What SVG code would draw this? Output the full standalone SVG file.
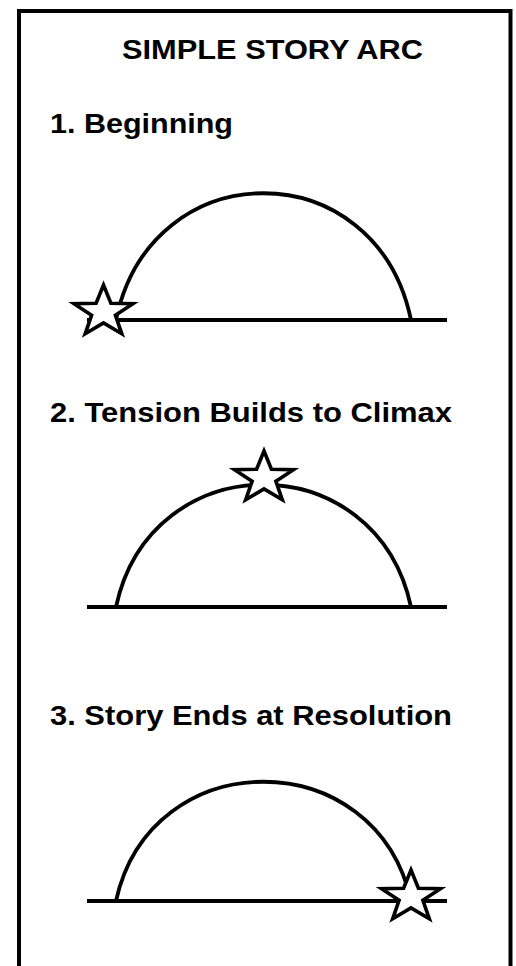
<svg xmlns="http://www.w3.org/2000/svg" xmlns:xlink="http://www.w3.org/1999/xlink" width="516" height="966" viewBox="0 0 516 966">
  <style>
    .t { font-family: "Liberation Sans", Arial, sans-serif; font-weight: bold; font-size: 27px; fill: #000; }
    .base { stroke: #000; stroke-width: 4; fill: none; }
    .arc { stroke: #000; stroke-width: 3.8; fill: none; }
    .star { stroke: #000; stroke-width: 3.6; fill: #fff; stroke-linejoin: miter; stroke-miterlimit: 10; }
  </style>
  <defs>
    <polygon id="starShape" points="0,-27 7.4,-8.8 29.5,-8.3 11.9,3.3 18.3,21.8 0,10.9 -18.3,21.8 -11.9,3.3 -29.5,-8.3 -7.4,-8.8"/>
  </defs>
  <rect x="0" y="0" width="516" height="966" fill="#fff"/>
  <rect id="frame" x="19" y="11" width="491.5" height="990" fill="none" stroke="#000" stroke-width="4"/>
  <g id="title">
    <text class="t" x="122" y="59" textLength="301" lengthAdjust="spacingAndGlyphs">SIMPLE STORY ARC</text>
  </g>
  <g id="panel1">
    <text class="t" x="50" y="133" textLength="183" lengthAdjust="spacingAndGlyphs">1. Beginning</text>
    <line class="base" x1="87" y1="320" x2="447" y2="320"/>
    <path class="arc" d="M116,320 C151,151 376,151 411,320"/>
    <use xlink:href="#starShape" class="star" transform="translate(103.5,312)"/>
  </g>
  <g id="panel2">
    <text class="t" x="50" y="422" textLength="402" lengthAdjust="spacingAndGlyphs">2. Tension Builds to Climax</text>
    <line class="base" x1="87" y1="607" x2="447" y2="607"/>
    <path class="arc" d="M116,607 C151,444 376,444 411,607"/>
    <use xlink:href="#starShape" class="star" transform="translate(264,478)"/>
  </g>
  <g id="panel3">
    <text class="t" x="50" y="725" textLength="402" lengthAdjust="spacingAndGlyphs">3. Story Ends at Resolution</text>
    <line class="base" x1="87" y1="901" x2="447" y2="901"/>
    <path class="arc" d="M116,901 C151,742 376,742 411,901"/>
    <use xlink:href="#starShape" class="star" transform="translate(411,897)"/>
  </g>
</svg>
